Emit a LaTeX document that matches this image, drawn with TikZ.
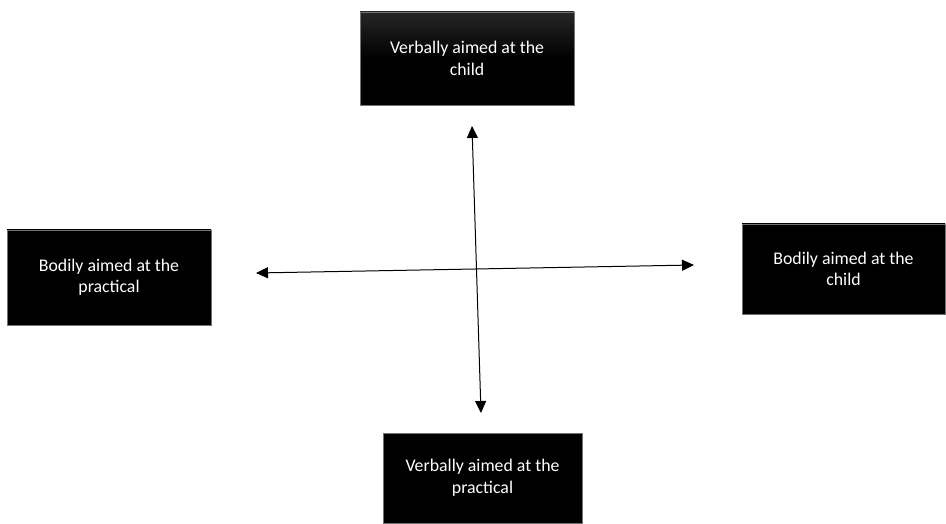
\documentclass[tikz,border=0pt]{standalone}
\usepackage{fontspec}
\setmainfont{Carlito}
\usetikzlibrary{arrows.meta}
\tikzset{
  darkbox/.style={draw=black!55, line width=0.6pt, top color=black!85, bottom color=black, middle color=black,
    text=white, align=center, font=\fontsize{17.8pt}{21.5pt}\selectfont, inner sep=0pt},
  axis/.style={line width=1pt, {Triangle[length=12pt,width=11pt]}-{Triangle[length=12pt,width=11pt]}}
}
\begin{document}
\begin{tikzpicture}[x=1pt,y=-1pt]
\useasboundingbox (0,0) rectangle (946,524);
\node[darkbox, minimum width=214pt, minimum height=93pt] (top) at (467,58.5) {Verbally aimed at the\\child};
\node[darkbox, minimum width=204pt, minimum height=95pt, top color=black, middle color=black] (left) at (109,277.5) {Bodily aimed at the\\practical};
\node[darkbox, minimum width=203pt, minimum height=90pt, top color=black, middle color=black] (right) at (843.5,269) {Bodily aimed at the\\child};
\node[darkbox, minimum width=199pt, minimum height=90pt, top color=black, middle color=black] (bottom) at (482.5,478) {Verbally aimed at the\\practical};
\coordinate (vtop) at (472,126);
\coordinate (vbot) at (481,413);
\coordinate (hleft) at (256,273);
\coordinate (hright) at (694,265);
\draw[axis] (vtop) -- (vbot);
\draw[axis] (hleft) -- (hright);
\end{tikzpicture}
\end{document}
